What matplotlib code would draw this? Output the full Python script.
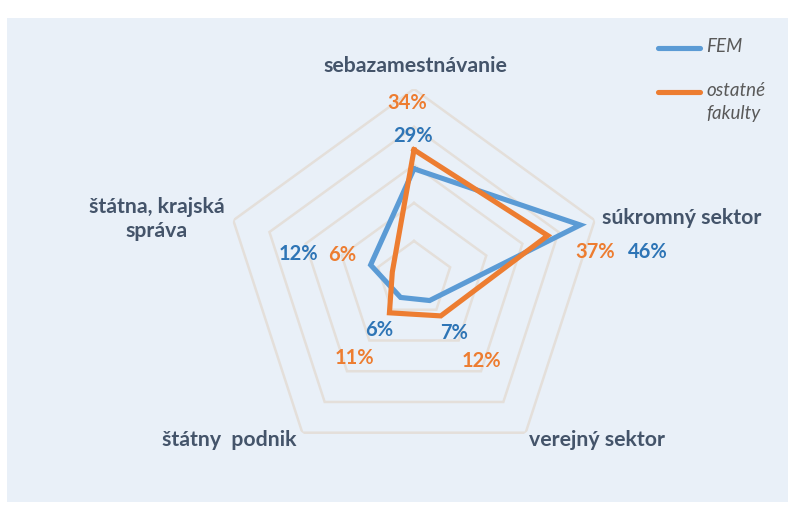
import numpy as np
import matplotlib
matplotlib.use("Agg")
import matplotlib.pyplot as plt
from matplotlib.patches import Rectangle

# ---- data ----
categories = ["sebazamestnávanie", "súkromný sektor", "verejný sektor",
              "štátny  podnik", "štátna, krajská\nspráva"]
fem = [29, 46, 7, 6, 12]
ostatne = [34, 37, 12, 11, 6]
series_names = ["FEM", "ostatné\nfakulty"]
grid_levels = [10, 20, 30, 40, 50]

W, H = 788, 508
fig = plt.figure(figsize=(W / 100, H / 100), dpi=100)
fig.patch.set_facecolor("white")

BG = "#e9f0f8"
fig.patches.append(Rectangle((7 / W, 6 / H), 1 - 7 / W, (H - 18 - 6) / H,
                             transform=fig.transFigure, facecolor=BG,
                             edgecolor="none", zorder=-5))

BLUE = "#5b9bd5"
ORANGE = "#ed7d31"
BLUE_T = "#2e75b6"
CAT_C = "#44546a"
GRID_C = "#e4dfda"
FONT = "Lato"

cx, cy, R = 414, 279, 190
ax = fig.add_axes([(cx - R) / W, (H - cy - R) / H, 2 * R / W, 2 * R / H],
                  projection="polar")
ax.set_zorder(2)
ax.set_facecolor("none")
ax.set_theta_offset(np.pi / 2)
ax.set_theta_direction(-1)
ax.set_ylim(0, grid_levels[-1])
ax.grid(False)
ax.spines["polar"].set_visible(False)
ax.set_xticks([])
ax.set_yticks([])

n = len(categories)
angles = np.linspace(0, 2 * np.pi, n, endpoint=False)
ang_c = np.concatenate([angles, angles[:1]])

for lv in grid_levels:
    ax.plot(ang_c, [lv] * (n + 1), color=GRID_C, lw=1.8, zorder=1,
            solid_joinstyle="miter")

ax.plot(ang_c, fem + fem[:1], color=BLUE, lw=3.7, zorder=3,
        solid_joinstyle="miter")
ax.plot(ang_c, ostatne + ostatne[:1], color=ORANGE, lw=3.7, zorder=4,
        solid_joinstyle="miter")


def ptext(x, y, s, **kw):
    fig.text(x / W, 1 - y / H, s, fontfamily=FONT, zorder=5, **kw)


# category labels
cat_pos = [(415, 66, "center"), (682, 218, "center"), (597, 440, "center"),
           (229, 440, "center"), (157, 219, "center")]
for (x, y, ha), lab in zip(cat_pos, categories):
    ptext(x, y, lab, ha=ha, va="center", fontsize=15.3, fontweight="bold",
          color=CAT_C, linespacing=1.3)

# value labels
fem_pos = [(413, 136), (648, 252), (454, 333), (379, 330), (298, 254)]
ost_pos = [(407, 103), (595, 252), (481, 361), (354, 358), (342, 255)]
for (x, y), v in zip(fem_pos, fem):
    ptext(x, y, f"{v}%", ha="center", va="center", fontsize=14.5,
          fontweight="bold", color=BLUE_T)
for (x, y), v in zip(ost_pos, ostatne):
    ptext(x, y, f"{v}%", ha="center", va="center", fontsize=14.5,
          fontweight="bold", color=ORANGE)

# legend
leg = fig.add_axes([0, 0, 1, 1], facecolor="none")
leg.set_zorder(3)
leg.set_xlim(0, W)
leg.set_ylim(H, 0)
leg.axis("off")
for (yy, col, name) in [(48, BLUE, series_names[0]), (92, ORANGE, series_names[1])]:
    leg.plot([658, 700], [yy, yy], color=col, lw=3.7, solid_capstyle="round")
    leg.text(706, yy - 10, name, ha="left", va="top", fontsize=13.5,
             fontstyle="italic", color="#595959", fontfamily=FONT,
             linespacing=1.45)

fig.savefig("out.png", dpi=100, facecolor="white")
